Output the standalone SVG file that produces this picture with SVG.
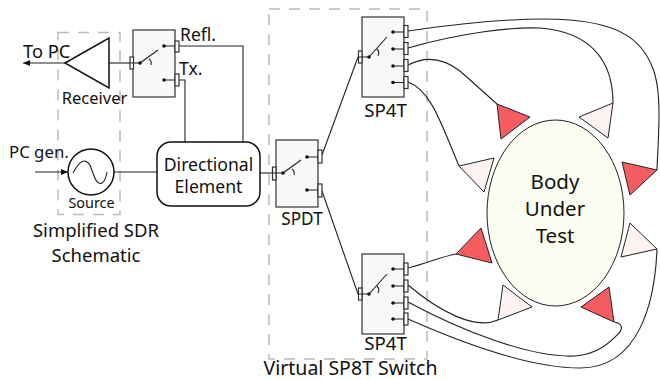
<svg xmlns="http://www.w3.org/2000/svg" width="660" height="380" viewBox="0 0 660 380">
<style>
text{font-family:"Noto Sans","Open Sans",sans-serif;fill:#111;font-size:18px}
.m{text-anchor:middle}
.dash{fill:none;stroke:#bbb;stroke-width:1.5;stroke-dasharray:11 9}
.box{fill:#f8f8f8;stroke:#333;stroke-width:1.2}
.port{fill:#fff;stroke:#333;stroke-width:1.2}
.line{fill:none;stroke:#222;stroke-width:1.1}
.dot{fill:#111}
.red{fill:#f65d60;stroke:#222;stroke-width:1}
.pink{fill:#fff2f2;stroke:#222;stroke-width:1}
</style>
<defs>
<marker id="ah" markerWidth="8" markerHeight="7" refX="7" refY="3.500" orient="auto" markerUnits="userSpaceOnUse"><path d="M0,0.5L7,3.500L0,6.500z" fill="#111"/></marker>
<g id="blade"><path class="line" d="M0,0L18,-13M9,-4q3,2 2,6"/></g>
</defs>
<rect class="dash" x="58" y="32.500" width="62" height="182"/>
<rect class="dash" x="269" y="9" width="158" height="350"/>
<g id="connectors">
<path class="line" d="M109,63H130"/>
<path class="line" d="M65,63H23" marker-end="url(#ah)"/>
<path class="line" d="M179,46H243V142"/>
<path class="line" d="M179,80H185V142"/>
<path class="line" d="M35,172H68" marker-end="url(#ah)"/>
<path class="line" d="M114,172H157"/>
<path class="line" d="M260,173H276"/>
<path class="line" d="M322,155L358,57"/>
<path class="line" d="M322,191L358,294"/>
<path class="line" d="M408,31C470,22 530,17 570,20C620,24 645,40 655,75C662,100 658,140 657,170"/>
<path class="line" d="M408,48C460,33 510,27 540,28C590,32 613,60 613,103"/>
<path class="line" d="M408,65C425,56 443,58 460,71L497,104"/>
<path class="line" d="M408,82C430,90 440,120 459,166"/>
<path class="line" d="M408,268C425,264 440,257 456,254"/>
<path class="line" d="M408,285C440,312 475,330 498,320"/>
<path class="line" d="M408,302C460,330 530,358 575,356C600,354 612,340 620,332C623,327 621,323 614,322"/>
<path class="line" d="M408,319C460,342 530,368 580,368C640,368 655,300 657,249"/>
</g>
<g id="receiver"><path d="M65,63L109,38V88z" fill="#fff" stroke="#111" stroke-width="1.5"/><text class="m" x="94.500" y="104" style="font-size:16.500px">Receiver</text></g>
<g id="to-pc"><text x="23" y="58" style="font-size:18.300px">To PC</text></g>
<g id="rx-switch">
<rect class="box" x="133" y="30" width="42" height="67"/>
<rect class="port" x="130" y="57" width="3.500" height="12"/><rect class="port" x="175" y="41" width="4" height="11"/><rect class="port" x="175" y="74" width="4" height="12"/>
<path class="line" d="M140,63H130M164,46H175M164,80H175"/>
<use href="#blade" x="140" y="63"/>
<circle class="dot" cx="140" cy="63" r="1.800"/><circle class="dot" cx="164" cy="46" r="1.800"/><circle class="dot" cx="164" cy="80" r="1.800"/>
<text x="180" y="41" style="font-size:17.500px">Refl.</text><text x="179" y="75" style="font-size:17.500px">Tx.</text>
</g>
<g id="source">
<circle cx="91" cy="172" r="23" fill="#fff" stroke="#111" stroke-width="1.500"/>
<path class="line" d="M73,173C80,160 85,158 90,165C94,175 96,186 102,183C104,182 106,178 107,172"/>
<text class="m" x="91.500" y="208" style="font-size:14.400px">Source</text>
</g>
<g id="pc-gen"><text x="9" y="158" style="font-size:16.800px">PC gen.</text></g>
<g id="directional"><rect x="157" y="142" width="103" height="64" rx="14" fill="#fff" stroke="#111" stroke-width="1.500"/><text class="m" x="208.500" y="171" style="font-size:17.600px">Directional</text><text class="m" x="208.500" y="193" style="font-size:17.600px">Element</text></g>
<g id="sdr-label"><text class="m" x="96" y="237" style="font-size:18.500px">Simplified SDR</text><text class="m" x="96" y="262" style="font-size:18.500px">Schematic</text></g>
<g id="spdt">
<rect class="box" x="276" y="140" width="42" height="67"/>
<rect class="port" x="272.500" y="167" width="3.500" height="13"/><rect class="port" x="318" y="150" width="4" height="13"/><rect class="port" x="318" y="184" width="4" height="13"/>
<path class="line" d="M283,173H272M307,157H318M307,190H318"/>
<use href="#blade" x="283" y="173"/>
<circle class="dot" cx="283" cy="173" r="1.800"/><circle class="dot" cx="307" cy="157" r="1.800"/><circle class="dot" cx="307" cy="190" r="1.800"/>
<text class="m" x="302" y="225" style="font-size:17.200px">SPDT</text>
</g>
<g id="sp4t-top">
<rect class="box" x="362" y="17" width="42" height="80"/>
<rect class="port" x="358.500" y="51" width="3.500" height="12"/>
<rect class="port" x="404" y="25.500" width="4" height="12"/><rect class="port" x="404" y="42.500" width="4" height="12"/><rect class="port" x="404" y="59.500" width="4" height="12"/><rect class="port" x="404" y="76.500" width="4" height="12"/>
<path class="line" d="M369,57H358M393,32H404M393,49H404M393,66H404M393,82.500H404M369,57L387,37M377,49q3,3 1,7"/>
<circle class="dot" cx="369" cy="57" r="1.800"/><circle class="dot" cx="393" cy="32" r="1.800"/><circle class="dot" cx="393" cy="49" r="1.800"/><circle class="dot" cx="393" cy="66" r="1.800"/><circle class="dot" cx="393" cy="82.500" r="1.800"/>
<text class="m" x="385.500" y="117" style="font-size:18.700px">SP4T</text>
</g>
<g id="sp4t-bottom">
<rect class="box" x="362" y="254" width="42" height="80"/>
<rect class="port" x="358.500" y="288" width="3.500" height="12"/>
<rect class="port" x="404" y="263" width="4" height="12"/><rect class="port" x="404" y="280" width="4" height="12"/><rect class="port" x="404" y="297" width="4" height="12"/><rect class="port" x="404" y="313" width="4" height="12"/>
<path class="line" d="M369,294H358M393,269H404M393,286H404M393,303H404M393,319H404M369,294L387,274M377,286q3,3 1,7"/>
<circle class="dot" cx="369" cy="294" r="1.800"/><circle class="dot" cx="393" cy="269" r="1.800"/><circle class="dot" cx="393" cy="286" r="1.800"/><circle class="dot" cx="393" cy="303" r="1.800"/><circle class="dot" cx="393" cy="319" r="1.800"/>
<text class="m" x="385.500" y="350" style="font-size:18.700px">SP4T</text>
</g>
<g id="virtual-label"><text class="m" x="350.500" y="375" style="font-size:19.500px">Virtual SP8T Switch</text></g>
<g id="body"><ellipse cx="555.500" cy="213" rx="68.500" ry="93" fill="#fbfdf0" stroke="#222" stroke-width="1"/><text class="m" x="555" y="189" style="font-size:20.500px">Body</text><text class="m" x="555" y="216" style="font-size:20.500px">Under</text><text class="m" x="555" y="243" style="font-size:20.500px">Test</text></g>
<g id="antenna-1"><path class="red" d="M497,104L530,117L501,139z"/></g>
<g id="antenna-2"><path class="pink" d="M613,103L579,117L608,138z"/></g>
<g id="antenna-3"><path class="pink" d="M459,166L494,158L484,192z"/></g>
<g id="antenna-4"><path class="red" d="M622,162L657,170L630,195z"/></g>
<g id="antenna-5"><path class="red" d="M456,254L481,228L492,263z"/></g>
<g id="antenna-6"><path class="pink" d="M630,223L657,249L621,257z"/></g>
<g id="antenna-7"><path class="pink" d="M503,285L532,307L498,320z"/></g>
<g id="antenna-8"><path class="red" d="M609,287L581,307L614,322z"/></g>
</svg>
